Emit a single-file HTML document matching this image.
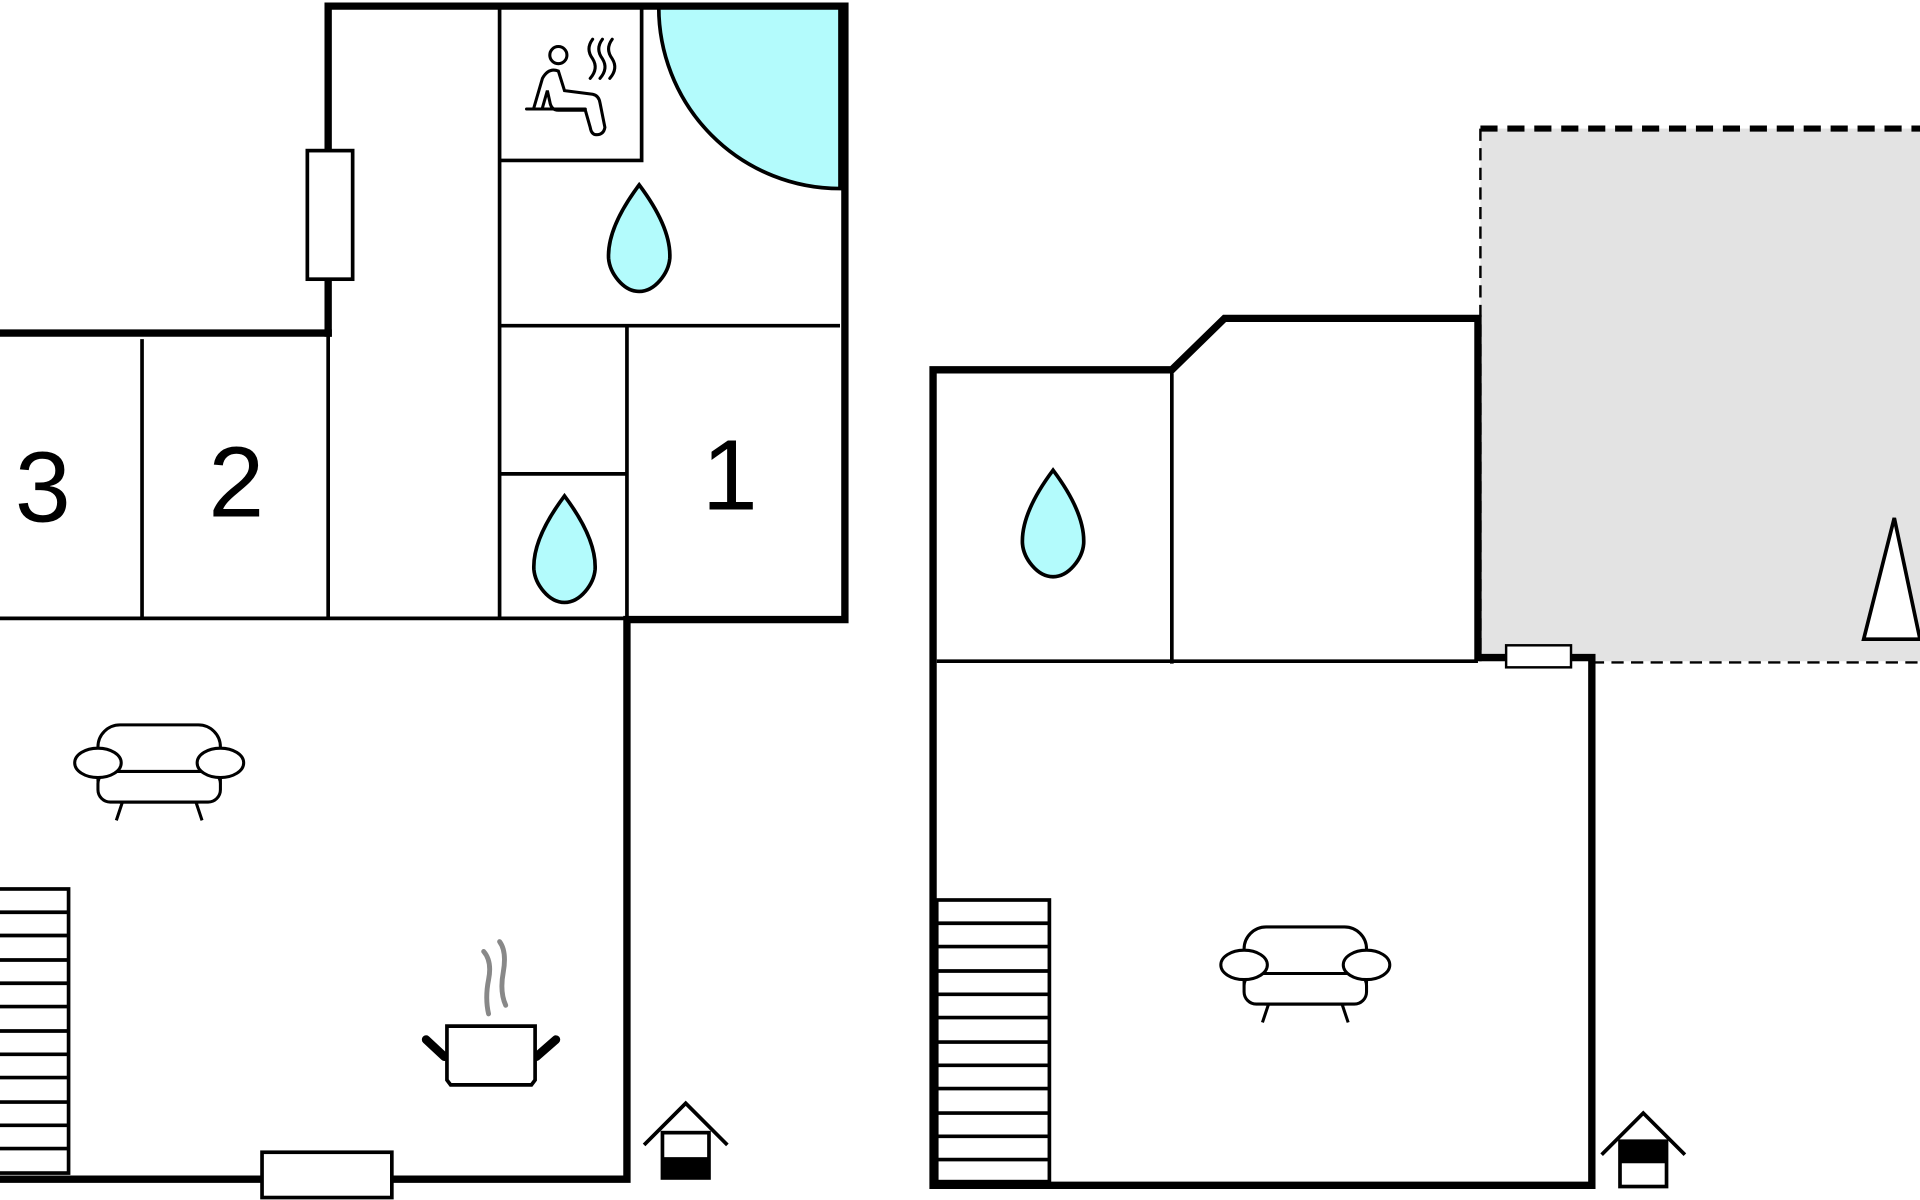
<!DOCTYPE html>
<html><head><meta charset="utf-8"><style>
html,body{margin:0;padding:0;background:#fff;}
svg{display:block;}
</style></head><body>
<svg width="1920" height="1200" viewBox="0 0 1568 980" xmlns="http://www.w3.org/2000/svg">
<defs>
<g id="drop"><path d="M0,-44 C12,-28 26,-5 25,16 C24,28 13,43 0,43 C-13,43 -24,28 -25,16 C-26,-5 -12,-28 0,-44 Z" fill="#b3fbfc" stroke="#000" stroke-width="3"/></g>
<g id="sofa" fill="#fff" stroke="#000" stroke-width="2.5">
<path d="M-30,30 L-35,45 M30,30 L35,45"/>
<rect x="-50" y="-33" width="100" height="63" rx="18"/>
<rect x="-50" y="5" width="100" height="25" rx="10"/>
<ellipse cx="-50" cy="-2" rx="19" ry="12"/>
<ellipse cx="50" cy="-2" rx="19" ry="12"/>
</g>
</defs>

<!-- LEFT PLAN -->
<path d="M538,5 A148,148 0 0 0 686,154 L686,5 Z" fill="#b3fbfc" stroke="#000" stroke-width="3"/>
<g stroke="#000" stroke-width="3" fill="none">
<path d="M408,5 V505"/>
<path d="M0,505 H512"/>
<path d="M408,131 H524 V5"/>
<path d="M408,266 H686"/>
<path d="M512,266 V505"/>
<path d="M408,387 H512"/>
<path d="M116,277 V505"/>
<path d="M268,272 V505"/>
</g>
<g stroke="#000" stroke-width="6" fill="none" stroke-linecap="square">
<path d="M268,272 V5 H690 V506 H512 V963 H0"/>
<path d="M0,272 H268"/>
</g>
<rect x="251" y="123" width="37" height="105" fill="#fff" stroke="#000" stroke-width="3"/>
<rect x="214" y="941" width="106" height="37" fill="#fff" stroke="#000" stroke-width="3"/>
<g stroke="#000" stroke-width="3" fill="#fff">
<rect x="-5" y="726" width="61" height="232"/>
<path d="M0,745 H56 M0,764 H56 M0,784 H56 M0,803 H56 M0,822 H56 M0,842 H56 M0,861 H56 M0,880 H56 M0,900 H56 M0,919 H56 M0,938 H56"/>
</g>
<text x="35" y="426" font-family="Liberation Sans, sans-serif" font-size="82" text-anchor="middle">3</text>
<text x="193" y="422" font-family="Liberation Sans, sans-serif" font-size="82" text-anchor="middle">2</text>
<text x="596" y="416" font-family="Liberation Sans, sans-serif" font-size="82" text-anchor="middle">1</text>
<use href="#drop" x="522" y="195"/>
<use href="#drop" x="461" y="449"/>
<g stroke="#000" stroke-width="2.5" fill="none" stroke-linecap="round">
<circle cx="456" cy="45" r="7"/>
<path d="M430,89 H478"/>
<path d="M436,88 L443,64 Q448,55 456,58 L461,74 L484,77 Q489,78 490,84 L494,104 Q493,110 487,110 Q483,110 482,104 L478,90 L456,90 Q450,90 449,83 L447,74 L443,88"/>
<path d="M484,32 Q478,40 484,48 Q489,56 482,64 M492,32 Q486,40 492,48 Q497,56 490,64 M500,32 Q494,40 500,48 Q505,56 498,64"/>
</g>
<use href="#sofa" x="130" y="625"/>
<g>
<path d="M395,777 Q402,785 399,800 Q396,815 399,828 M408,769 Q414,777 411,794 Q408,810 413,821" stroke="#888" stroke-width="4" fill="none" stroke-linecap="round"/>
<path d="M348,849 L363,863 M454,849 L438,863" stroke="#000" stroke-width="7" stroke-linecap="round"/>
<path d="M365,838 H437 V882 L434,886 H368 L365,882 Z" fill="#fff" stroke="#000" stroke-width="3"/>
</g>
<g>
<path d="M526,935 L560,901 L594,935" fill="none" stroke="#000" stroke-width="3"/>
<rect x="541" y="925" width="38" height="37" fill="#fff" stroke="#000" stroke-width="3"/>
<rect x="541" y="945" width="38" height="17" fill="#000"/>
</g>

<!-- RIGHT PLAN -->
<rect x="1209" y="105" width="362" height="435" fill="#e3e3e3"/>
<path d="M1209,105 H1568" stroke="#000" stroke-width="5" stroke-dasharray="14,8" fill="none"/>
<path d="M1209,105 V540" stroke="#000" stroke-width="2" stroke-dasharray="10,6" fill="none"/>
<path d="M1300,541 H1568" stroke="#000" stroke-width="2" stroke-dasharray="10,6" fill="none"/>
<path d="M1522,522 L1547,423 L1568,522 Z" fill="#fff" stroke="#000" stroke-width="3"/>
<g stroke="#000" stroke-width="3" fill="none">
<path d="M957,305 V542"/>
<path d="M765,540 H1207"/>
</g>
<g stroke="#000" stroke-width="6" fill="none" stroke-linecap="square">
<path d="M762,968 V302 H957 L1000,260 H1207 V537 H1300 V968 Z"/>
</g>
<rect x="1230" y="527" width="53" height="18" fill="#fff" stroke="#000" stroke-width="2"/>
<g stroke="#000" stroke-width="3" fill="#fff">
<rect x="765" y="735" width="92" height="230"/>
<path d="M765,754 H857 M765,773 H857 M765,793 H857 M765,812 H857 M765,831 H857 M765,851 H857 M765,870 H857 M765,889 H857 M765,909 H857 M765,928 H857 M765,947 H857"/>
</g>
<use href="#drop" x="860" y="428"/>
<use href="#sofa" x="1066" y="790"/>
<g>
<path d="M1308,943 L1342,909 L1376,943" fill="none" stroke="#000" stroke-width="3"/>
<rect x="1323" y="932" width="38" height="37" fill="#fff" stroke="#000" stroke-width="3"/>
<rect x="1323" y="932" width="38" height="18" fill="#000"/>
</g>
</svg>
</body></html>
